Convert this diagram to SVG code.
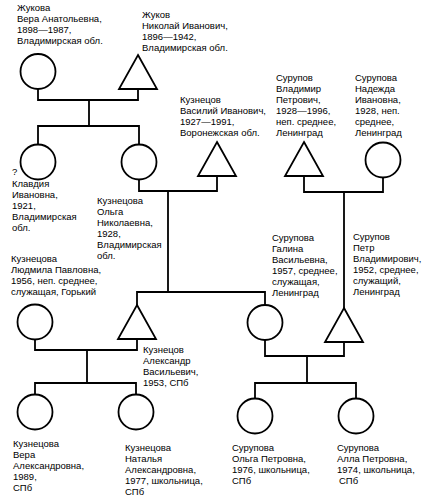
<svg xmlns="http://www.w3.org/2000/svg" width="428" height="501" viewBox="0 0 428 501">
<style>
text{font-family:"Liberation Sans",Arial,sans-serif;font-size:9.5px;fill:#000}
.s{fill:#fff;stroke:#000;stroke-width:1.8}
.c{fill:none;stroke:#000;stroke-width:1.8;stroke-linejoin:miter}
</style>
<rect width="428" height="501" fill="#fff"/>
<g id="connectors">
<path class="c" d="M38,89 V100 H138 V89 M89,100 V126 M38,144 V126 H139 V144"/>
<path class="c" d="M139,179.5 V191 H217 V176 M168,191 V292"/>
<path class="c" d="M304,176 V192 H383 V177.5 M344,192 V308"/>
<path class="c" d="M137,305 V292 H265 V305"/>
<path class="c" d="M35,339.5 V350 H137 V339 M87,350 V383 M35,394.5 V383 H136 V394.5"/>
<path class="c" d="M265,340 V356 H344 V342 M307,356 V383 M255,398.5 V383 H356 V398.5"/>
</g>
<g id="n1"><circle class="s" cx="38" cy="71.5" r="17.5"/>
<text x="17" y="11">Жукова</text><text x="17" y="22">Вера Анатольевна,</text><text x="17" y="33">1898—1987,</text><text x="17" y="44">Владимирская обл.</text></g>
<g id="n2"><polygon class="s" points="138,55 157,89 119,89"/>
<text x="142" y="18">Жуков</text><text x="142" y="29">Николай Иванович,</text><text x="142" y="40">1896—1942,</text><text x="142" y="51">Владимирская обл.</text></g>
<g id="n3"><circle class="s" cx="38" cy="162" r="17.5"/>
<text x="12" y="175">?</text><text x="12" y="187">Клавдия</text><text x="12" y="198">Ивановна,</text><text x="12" y="209">1921,</text><text x="12" y="220">Владимирская</text><text x="12" y="231">обл.</text></g>
<g id="n4"><circle class="s" cx="139" cy="162" r="17.5"/>
<text x="97" y="204">Кузнецова</text><text x="97" y="215">Ольга</text><text x="97" y="226">Николаевна,</text><text x="97" y="237">1928,</text><text x="97" y="248">Владимирская</text><text x="97" y="259">обл.</text></g>
<g id="n5"><polygon class="s" points="217,142 236,176 198,176"/>
<text x="180" y="103">Кузнецов</text><text x="180" y="114">Василий Иванович,</text><text x="180" y="125">1927—1991,</text><text x="180" y="136">Воронежская обл.</text></g>
<g id="n6"><polygon class="s" points="304,142 323,176 285,176"/>
<text x="276" y="81">Сурупов</text><text x="276" y="92">Владимир</text><text x="276" y="103">Петрович,</text><text x="276" y="114">1928—1996,</text><text x="276" y="125">неп. среднее,</text><text x="276" y="136">Ленинград</text></g>
<g id="n7"><circle class="s" cx="383" cy="160" r="17.5"/>
<text x="355" y="81">Сурупова</text><text x="355" y="92">Надежда</text><text x="355" y="103">Ивановна,</text><text x="355" y="114">1928, неп.</text><text x="355" y="125">среднее,</text><text x="355" y="136">Ленинград</text></g>
<g id="n8"><circle class="s" cx="35" cy="322" r="17.5"/>
<text x="11" y="262">Кузнецова</text><text x="11" y="273">Людмила Павловна,</text><text x="11" y="284">1956, неп. среднее,</text><text x="11" y="295">служащая, Горький</text></g>
<g id="n9"><polygon class="s" points="137,305 156,339 118,339"/>
<text x="143" y="353">Кузнецов</text><text x="143" y="364">Александр</text><text x="143" y="375">Васильевич,</text><text x="143" y="386">1953, СПб</text></g>
<g id="n10"><circle class="s" cx="265" cy="322.5" r="17.5"/>
<text x="272" y="241">Сурупова</text><text x="272" y="252">Галина</text><text x="272" y="263">Васильевна,</text><text x="272" y="274">1957, среднее,</text><text x="272" y="285">служащая,</text><text x="272" y="296">Ленинград</text></g>
<g id="n11"><polygon class="s" points="344,308 363,342 325,342"/>
<text x="353" y="240">Сурупов</text><text x="353" y="251">Петр</text><text x="353" y="262">Владимирович,</text><text x="353" y="273">1952, среднее,</text><text x="353" y="284">служащий,</text><text x="353" y="295">Ленинград</text></g>
<g id="n12"><circle class="s" cx="35" cy="412" r="17.5"/>
<text x="13" y="447">Кузнецова</text><text x="13" y="458">Вера</text><text x="13" y="469">Александровна,</text><text x="13" y="480">1989,</text><text x="13" y="491">СПб</text></g>
<g id="n13"><circle class="s" cx="136" cy="412" r="17.5"/>
<text x="125" y="451">Кузнецова</text><text x="125" y="462">Наталья</text><text x="125" y="473">Александровна,</text><text x="125" y="484">1977, школьница,</text><text x="125" y="495">СПб</text></g>
<g id="n14"><circle class="s" cx="255" cy="416" r="17.5"/>
<text x="232" y="451">Сурупова</text><text x="232" y="462">Ольга Петровна,</text><text x="232" y="473">1976, школьница,</text><text x="232" y="484">СПб</text></g>
<g id="n15"><circle class="s" cx="356" cy="416" r="17.5"/>
<text x="337" y="451">Сурупова</text><text x="337" y="462">Алла Петровна,</text><text x="337" y="473">1974, школьница,</text><text x="339" y="484">СПб</text></g>
</svg>
